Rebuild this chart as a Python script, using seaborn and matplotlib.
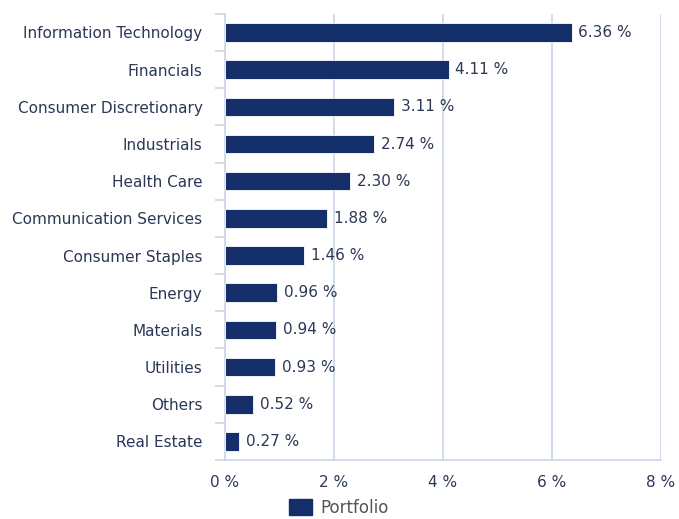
import seaborn as sns
import matplotlib.pyplot as plt
import numpy as np
from matplotlib.patches import Patch

sectors = ["Information Technology", "Financials", "Consumer Discretionary", "Industrials",
           "Health Care", "Communication Services", "Consumer Staples", "Energy",
           "Materials", "Utilities", "Others", "Real Estate"]
weights = [6.36, 4.11, 3.11, 2.74, 2.30, 1.88, 1.46, 0.96, 0.94, 0.93, 0.52, 0.27]
xticks = [0, 2, 4, 6, 8]

bar_color = "#132e68"
grid_color = "#c9d5e6"
text_color = "#2b3856"

sns.set_style("white")
plt.rcParams["font.family"] = ["DejaVu Sans"]

fig = plt.figure(figsize=(6.79, 5.19), dpi=100)
ax = fig.add_axes([0.331, 0.1137, 0.6425, 0.8595])

sns.barplot(x=weights, y=sectors, color=bar_color, width=0.5, ax=ax,
            saturation=1, edgecolor="white", linewidth=0.6, zorder=3)

# value labels to the right of each bar
for i, v in enumerate(weights):
    ax.text(v + 0.12, i, f"{v:.2f} %", va="center", ha="left",
            fontsize=11, color=text_color)

ax.set_xlim(0, 8)
ax.set_ylim(len(sectors) - 0.5, -0.5)
ax.set_xticks(xticks)
ax.set_xticklabels([f"{t} %" for t in xticks], fontsize=11, color=text_color)
ax.tick_params(axis="x", length=0, pad=11)
ax.tick_params(axis="y", which="major", left=False, length=0, pad=16,
               labelsize=11, labelcolor=text_color)
ax.set_yticks(np.arange(-0.5, len(sectors), 1), minor=True)
ax.tick_params(axis="y", which="minor", left=True, length=7, color=grid_color, width=1.2)

ax.grid(axis="x", color=grid_color, linewidth=1.2, zorder=0)
ax.set_axisbelow(True)
for side in ["top", "right"]:
    ax.spines[side].set_visible(False)
ax.spines["left"].set_color(grid_color)
ax.spines["bottom"].set_color(grid_color)
ax.spines["left"].set_linewidth(1.2)
ax.spines["bottom"].set_linewidth(1.2)
ax.set_xlabel("")
ax.set_ylabel("")

handle = Patch(facecolor=bar_color, edgecolor=bar_color)
leg = fig.legend([handle], ["Portfolio"], loc="center left",
                 bbox_to_anchor=(0.403, 0.022), frameon=False, fontsize=12,
                 handlelength=1.4, handleheight=1.1, handletextpad=0.5)
for t in leg.get_texts():
    t.set_color("#555555")

fig.savefig("out.png", dpi=100)
